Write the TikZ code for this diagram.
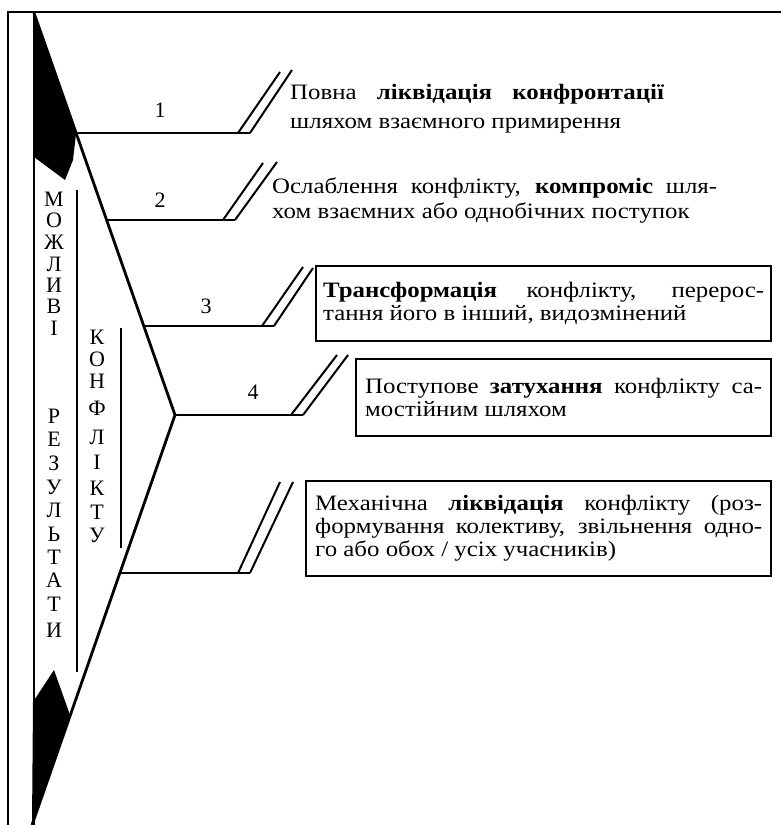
\documentclass[tikz,border=0pt]{standalone}
\usepackage{fontspec}
\setmainfont{Liberation Serif}[FakeStretch=1.13]
\newfontfamily\vfont{Liberation Serif}
\tikzset{
  frameline/.style={line width=2pt},
  spine/.style={line width=2.8pt, line join=round},
  branch/.style={line width=2.8pt},
  slashline/.style={line width=2pt},
  vbar/.style={line width=2.4pt},
  txtbox/.style={draw, line width=2.4pt, inner sep=0pt, anchor=north west, align=left,
                 font=\fontsize{22}{23}\selectfont},
  lbl/.style={font=\fontsize{22}{23}\selectfont, inner sep=0pt, anchor=base west},
  num/.style={font=\vfont\fontsize{22}{24}\selectfont, inner sep=0pt},
  vlet/.style={font=\vfont\fontsize{22}{24}\selectfont, inner sep=0pt,
               text height=14pt, text depth=0pt},
}
\begin{document}
\begin{tikzpicture}[x=1pt,y=-1pt]
\useasboundingbox (0,0) rectangle (781,825);
% frame
\draw[frameline] (781,12) -- (8,12) -- (8,825);
\draw[frameline] (34,12) -- (34,825);
% spine
\coordinate (top) at (34,13);
\coordinate (J1) at (76.1,133);
\coordinate (J2) at (106.6,220);
\coordinate (J3) at (143.8,326);
\coordinate (J4) at (175,415);
\coordinate (J5) at (119.6,573);
\coordinate (bot) at (32,825);
\fill (top) -- (J1) -- (73,160) -- (65,180) -- (34,157) -- cycle;
\fill (33,702) -- (54,670) -- (70,715) -- (bot) -- cycle;
\draw[spine] (top) -- (J4) -- (bot);
% branches
\coordinate (E1) at (250,133); \coordinate (A1) at (238,133);
\coordinate (A1t) at (280,72); \coordinate (E1t) at (292,70);
\coordinate (E2) at (235,220); \coordinate (A2) at (223,220);
\coordinate (A2t) at (263,163); \coordinate (E2t) at (277,162);
\coordinate (E3) at (274,326); \coordinate (A3) at (262,326);
\coordinate (A3t) at (303,267); \coordinate (E3t) at (313,268);
\coordinate (E4) at (303,415); \coordinate (A4) at (291,415);
\coordinate (A4t) at (337,355); \coordinate (E4t) at (348,355);
\coordinate (E5) at (250,573); \coordinate (A5) at (238,573);
\coordinate (A5t) at (280,482); \coordinate (E5t) at (293,482);
\foreach \i in {1,...,5}{
  \draw[branch] (J\i) -- (E\i);
  \draw[slashline] (A\i) -- (A\i t);
  \draw[slashline] (E\i) -- (E\i t);
}
% numbers
\node[num] (n1) at (160,110) {1};
\node[num] (n2) at (160,200) {2};
\node[num] (n3) at (206,306) {3};
\node[num] (n4) at (253,392) {4};
% texts 1 and 2
\node[lbl] (t1a) at (290,99) {\makebox[374pt][s]{Повна \textbf{ліквідація} \textbf{конфронтації}}};
\node[lbl] (t1b) at (290,128) {шляхом взаємного примирення};
\node[lbl] (t2a) at (272,193) {\makebox[445pt][s]{Ослаблення конфлікту, \textbf{компроміс} шля-}};
\node[lbl] (t2b) at (272,218) {хом взаємних або однобічних поступок};
% boxes
\node[txtbox, minimum width=455pt, minimum height=75pt] (b3) at (315,265)
  {\makebox[441pt][s]{\textbf{Трансформація} конфлікту, перерос-}\\
   тання його в інший, видозмінений};
\node[txtbox, minimum width=415pt, minimum height=77pt] (b4) at (355,358)
  {\makebox[397pt][s]{Поступове \textbf{затухання} конфлікту са-}\\
   мостійним шляхом};
\node[txtbox, minimum width=465pt, minimum height=95pt] (b5) at (305,480)
  {\makebox[447pt][s]{Механічна \textbf{ліквідація} конфлікту (роз-}\\
   \makebox[447pt][s]{формування колективу, звільнення одно-}\\
   го або обох / усіх учасників)};
% vertical texts
\foreach \l/\y [count=\i] in {М/199,О/220,Ж/242,Л/264,И/285,В/306,І/328,Р/416,Е/439,З/463,У/487,Л/510,Ь/534,Т/557,А/580,Т/604,И/630}
  {\node[vlet] (mr\i) at (54,\y) {\l};}
\foreach \l/\y [count=\i] in {К/337,О/359,Н/381,Ф/408,Л/437,І/462,К/488,Т/512,У/535}
  {\node[vlet] (kf\i) at (97,\y) {\l};}
\draw[vbar] (77,190) -- (77,672);
\draw[vbar] (121,328) -- (121,548);
\end{tikzpicture}
\end{document}
